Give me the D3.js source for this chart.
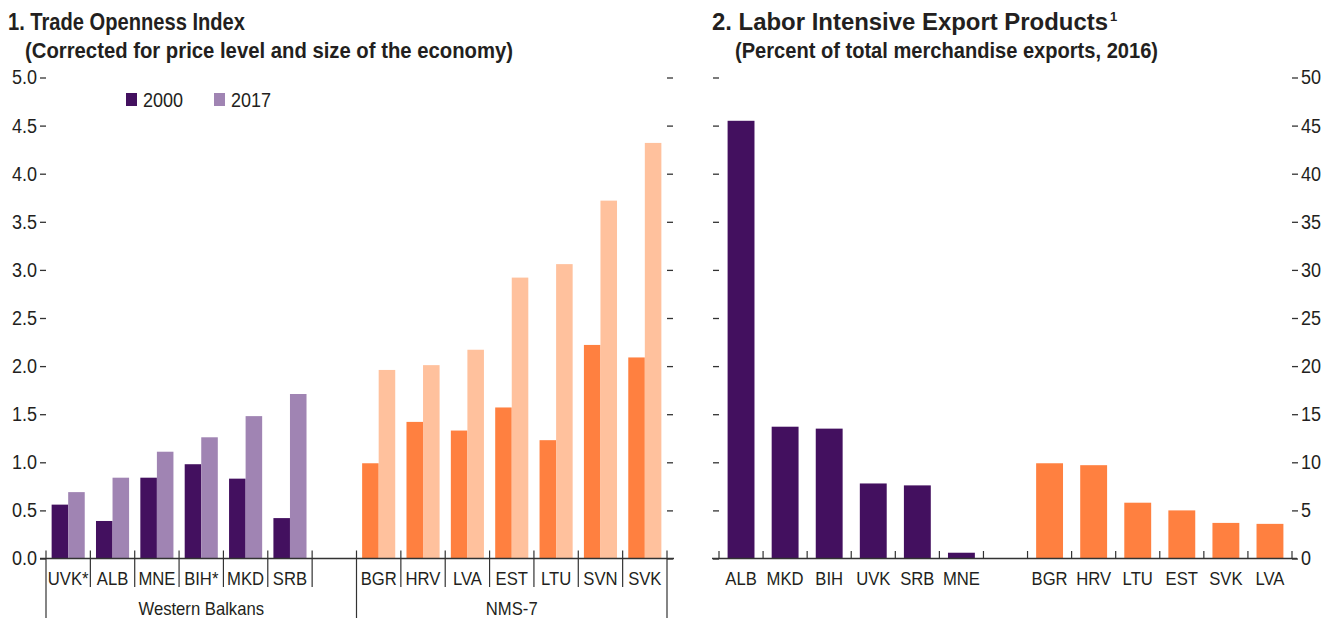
<!DOCTYPE html>
<html><head><meta charset="utf-8">
<script src="https://cdn.jsdelivr.net/npm/d3@7"></script>
<style>
body{margin:0;background:#fff;}
svg text{font-family:"Liberation Sans","Arial","Helvetica",sans-serif;fill:#231f20;}
</style></head><body>
<svg id="c" width="1326" height="618"></svg>
<script>
// ---------- Data ----------
const wbCats1 = ["UVK*","ALB","MNE","BIH*","MKD","SRB"];
const nmsCats1 = ["BGR","HRV","LVA","EST","LTU","SVN","SVK"];
const wb2000 = [0.56,0.39,0.84,0.98,0.83,0.42];
const wb2017 = [0.69,0.84,1.11,1.26,1.48,1.71];
const nms2000 = [0.99,1.42,1.33,1.57,1.23,2.22,2.09];
const nms2017 = [1.96,2.01,2.17,2.92,3.06,3.72,4.32];
const years = ["2000","2017"];
const yTicks1 = [0,0.5,1,1.5,2,2.5,3,3.5,4,4.5,5];

const wbCats2 = ["ALB","MKD","BIH","UVK","SRB","MNE"];
const wbVals2 = [45.5,13.7,13.5,7.8,7.6,0.6];
const nmsCats2 = ["BGR","HRV","LTU","EST","SVK","LVA"];
const nmsVals2 = [9.9,9.7,5.8,5.0,3.7,3.6];
const yTicks2 = [0,5,10,15,20,25,30,35,40,45,50];

const groupNames = ["Western Balkans","NMS-7"];

const C = {wb2000:"#43105f", wb2017:"#a084b3", nms2000:"#ff8040", nms2017:"#ffc19d", axis:"#333"};

const svg = d3.select("#c");

// ---------- Panel 1 ----------
const y0 = 558.5, yTop = 77.5;
const p1 = {l:46, r:667};
const keys1 = [...wbCats1, "_gap", ...nmsCats1];
const x1 = d3.scaleBand().domain(keys1).range([p1.l,p1.r]).padding(0);
const xs1 = d3.scaleBand().domain(years).range([0,x1.bandwidth()]).paddingInner(0).paddingOuter(0.34);
const y1 = d3.scaleLinear().domain([0,5]).range([y0,yTop]);

const rows1 = [
  ...wbCats1.map((c,i)=>({cat:c, vals:[wb2000[i],wb2017[i]], cols:[C.wb2000,C.wb2017]})),
  ...nmsCats1.map((c,i)=>({cat:c, vals:[nms2000[i],nms2017[i]], cols:[C.nms2000,C.nms2017]}))
];
const g1 = svg.append("g");
rows1.forEach(r=>{
  years.forEach((yr,j)=>{
    g1.append("rect").attr("x",x1(r.cat)+xs1(yr)).attr("width",xs1.bandwidth())
      .attr("y",y1(r.vals[j])).attr("height",y0-y1(r.vals[j])).attr("fill",r.cols[j]);
  });
});

const ax1L = svg.append("g").attr("transform",`translate(${p1.l},0)`)
  .call(d3.axisLeft(y1).tickValues(yTicks1).tickFormat(d3.format(".1f")).tickSize(6).tickPadding(3));
const ax1R = svg.append("g").attr("transform",`translate(${p1.r},0)`)
  .call(d3.axisRight(y1).tickValues(yTicks1).tickFormat("").tickSize(6));
[ax1L,ax1R].forEach(a=>{a.select(".domain").remove(); a.selectAll(".tick line").attr("stroke",C.axis).attr("stroke-width",1.3);
  a.selectAll("text").style("font-size","20px").attr("fill","#231f20");});

svg.append("line").attr("x1",40).attr("x2",674).attr("y1",y0).attr("y2",y0).attr("stroke",C.axis).attr("stroke-width",1.5);
const bounds1 = keys1.map(k=>x1(k)).concat([p1.r]);
bounds1.forEach((bx,i)=>{
  const long = (i===0 || i===7 || i===14);
  svg.append("line").attr("x1",bx).attr("x2",bx).attr("y1",550.5).attr("y2",long?618:587)
    .attr("stroke",C.axis).attr("stroke-width",1.2);
});
rows1.forEach(r=>{
  svg.append("text").attr("x",x1(r.cat)+x1.bandwidth()/2).attr("y",585).attr("text-anchor","middle")
    .style("font-size","18.5px").text(r.cat);
});
svg.append("text").attr("x",(x1(wbCats1[0])+x1("_gap")+x1.bandwidth())/2).attr("y",615).attr("text-anchor","middle").style("font-size","18.5px").text(groupNames[0]);
svg.append("text").attr("x",(x1(nmsCats1[0])+p1.r)/2).attr("y",615).attr("text-anchor","middle").style("font-size","18.5px").text(groupNames[1]);

const lg = svg.append("g");
[[126,C.wb2000,years[0]],[214,C.wb2017,years[1]]].forEach(([lx,col,t])=>{
  lg.append("rect").attr("x",lx).attr("y",93).attr("width",11).attr("height",13).attr("fill",col);
  lg.append("text").attr("x",lx+17).attr("y",107).style("font-size","20px").text(t);
});

// ---------- Panel 2 ----------
const p2 = {l:719, r:1292};
const keys2 = [...wbCats2, "_gap", ...nmsCats2];
const x2 = d3.scaleBand().domain(keys2).range([p2.l,p2.r]).paddingInner(0.39).paddingOuter(0.195);
const y2 = d3.scaleLinear().domain([0,50]).range([y0,yTop]);
const step2 = x2.step();
const rows2 = [
  ...wbCats2.map((c,i)=>({cat:c,v:wbVals2[i],col:C.wb2000})),
  ...nmsCats2.map((c,i)=>({cat:c,v:nmsVals2[i],col:C.nms2000}))
];
rows2.forEach(r=>{
  svg.append("rect").attr("x",x2(r.cat)).attr("width",x2.bandwidth()).attr("y",y2(r.v)).attr("height",y0-y2(r.v)).attr("fill",r.col);
  svg.append("text").attr("x",x2(r.cat)+x2.bandwidth()/2).attr("y",585).attr("text-anchor","middle").style("font-size","18.5px").text(r.cat);
});
const ax2L = svg.append("g").attr("transform",`translate(${p2.l},0)`)
  .call(d3.axisLeft(y2).tickValues(yTicks2).tickFormat("").tickSize(6));
const ax2R = svg.append("g").attr("transform",`translate(${p2.r},0)`)
  .call(d3.axisRight(y2).tickValues(yTicks2).tickFormat(d3.format("d")).tickSize(6).tickPadding(3));
[ax2L,ax2R].forEach(a=>{a.select(".domain").remove(); a.selectAll(".tick line").attr("stroke",C.axis).attr("stroke-width",1.3);
  a.selectAll("text").style("font-size","20px").attr("fill","#231f20");});
svg.append("line").attr("x1",712).attr("x2",1297).attr("y1",y0).attr("y2",y0).attr("stroke",C.axis).attr("stroke-width",1.5);
keys2.map(k=>x2(k)-step2*0.195).concat([p2.r]).forEach(bx=>{
  svg.append("line").attr("x1",bx).attr("x2",bx).attr("y1",551).attr("y2",y0).attr("stroke",C.axis).attr("stroke-width",1.2);
});

// condense regular labels (Helvetica Condensed look)
svg.selectAll("text").each(function(){
  const w = this.getComputedTextLength();
  if (w>0){ this.setAttribute("textLength", (w*0.9).toFixed(2)); this.setAttribute("lengthAdjust","spacingAndGlyphs"); }
});

// ---------- Titles ----------
function title(x,y,w,txt,size){
  return svg.append("text").attr("x",x).attr("y",y).style("font-size",(size||22)+"px").style("font-weight","bold")
    .attr("textLength",w).attr("lengthAdjust","spacingAndGlyphs").text(txt);
}
title(8,30,237,"1. Trade Openness Index",23);
title(25,58,488,"(Corrected for price level and size of the economy)",22);
title(712,30,396,"2. Labor Intensive Export Products",23);
svg.append("text").attr("x",1110).attr("y",21).style("font-size","13px").style("font-weight","bold").text("1");
title(735,58,423,"(Percent of total merchandise exports, 2016)",22);
</script></body></html>
